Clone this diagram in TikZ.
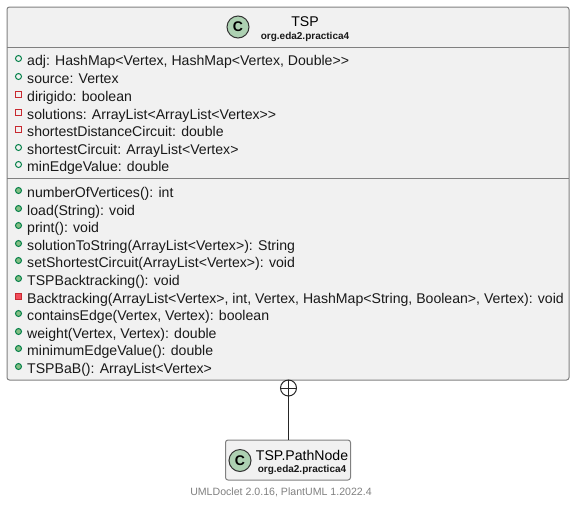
\documentclass[tikz,border=0pt]{standalone}
\usepackage{fontspec}
\setmainfont{Liberation Sans}
\definecolor{boxfill}{HTML}{F1F1F1}
\definecolor{boxline}{HTML}{808080}
\definecolor{spotfill}{HTML}{ADD1B2}
\definecolor{publine}{HTML}{038048}
\definecolor{pubfill}{HTML}{84BE84}
\definecolor{privline}{HTML}{C82930}
\definecolor{privfill}{HTML}{F24D5C}
\tikzset{
  classbox/.style={draw=boxline,fill=boxfill,rounded corners=2.5pt,line width=1pt,inner sep=0pt},
  member/.style={anchor=base west,inner sep=0pt,font=\fontsize{14.1}{16}\selectfont,text=black!90},
  spot/.style={circle,draw=black!80,fill=spotfill,minimum size=22pt,inner sep=0pt,line width=1pt,font=\bfseries\fontsize{14}{14}\selectfont},
  classname/.style={inner sep=0pt,font=\fontsize{14.1}{16}\selectfont},
  pkgname/.style={inner sep=0pt,font=\bfseries\fontsize{10}{11}\selectfont,text=black!90},
  sep/.style={boxline,line width=1pt},
  pubattr/.style={circle,draw=publine,minimum size=6pt,inner sep=0pt,line width=1pt},
  privattr/.style={rectangle,draw=privline,minimum size=6pt,inner sep=0pt,line width=1pt},
  pubop/.style={circle,draw=publine,fill=pubfill,minimum size=6pt,inner sep=0pt,line width=1pt},
  privop/.style={rectangle,draw=privline,fill=privfill,minimum size=6pt,inner sep=0pt,line width=1pt}
}
\begin{document}
\begin{tikzpicture}[x=1pt,y=-1pt]
\useasboundingbox (0,0) rectangle (575,504);

\node[classbox,minimum width=562pt,minimum height=373pt] (tsp) at (288,193.5) {};
\draw[sep] (7,47) -- (569,47);
\draw[sep] (7,178) -- (569,178);
\node[spot] (tspspot) at (238,27) {C};
\node[classname] (tspname) at (305,22) {TSP};
\node[pkgname] (tsppkg) at (305,36.5) {org.eda2.practica4};

% attributes
\foreach \kind/\ypos/\txt [count=\i] in {
  pubattr/65/{adj: HashMap<Vertex, HashMap<Vertex, Double>{}>},
  pubattr/83/{source: Vertex},
  privattr/101/{dirigido: boolean},
  privattr/119/{solutions: ArrayList<ArrayList<Vertex>{}>},
  privattr/136/{shortestDistanceCircuit: double},
  pubattr/154/{shortestCircuit: ArrayList<Vertex>},
  pubattr/171/{minEdgeValue: double}}
{
  \node[\kind] (attricon\i) at (18.5,\ypos-6.5) {};
  \node[member] (attr\i) at (27,\ypos) {\txt};
}

% operations
\foreach \kind/\ypos/\txt [count=\i] in {
  pubop/197/{numberOfVertices(): int},
  pubop/215/{load(String): void},
  pubop/232/{print(): void},
  pubop/250/{solutionToString(ArrayList<Vertex>): String},
  pubop/267/{setShortestCircuit(ArrayList<Vertex>): void},
  pubop/285/{TSPBacktracking(): void},
  privop/303/{Backtracking(ArrayList<Vertex>, int, Vertex, HashMap<String, Boolean>, Vertex): void},
  pubop/320/{containsEdge(Vertex, Vertex): boolean},
  pubop/338/{weight(Vertex, Vertex): double},
  pubop/355/{minimumEdgeValue(): double},
  pubop/373/{TSPBaB(): ArrayList<Vertex>}}
{
  \node[\kind] (opicon\i) at (18.5,\ypos-6.5) {};
  \node[member] (op\i) at (27,\ypos) {\txt};
}

\node[classbox,minimum width=125pt,minimum height=40pt] (pathnode) at (288,460) {};
\node[spot] (pathspot) at (240,460.5) {C};
\node[classname] (pathname) at (302,455) {TSP.PathNode};
\node[pkgname] (pathpkg) at (302,470) {org.eda2.practica4};

% nesting link
\node[circle,draw=black!85,minimum size=16pt,inner sep=0pt,line width=1pt] (plus) at (288.5,388) {};
\draw[black!85,line width=1pt] (plus.west) -- (plus.east);
\draw[black!85,line width=1pt] (plus.north) -- (plus.south);
\draw[black!85,line width=1pt] (plus.south) -- (plus.south |- pathnode.north);

\node[inner sep=0pt,text=gray,font=\fontsize{10.6}{12}\selectfont] (footer) at (281,492) {UMLDoclet 2.0.16, PlantUML 1.2022.4};
\end{tikzpicture}
\end{document}
